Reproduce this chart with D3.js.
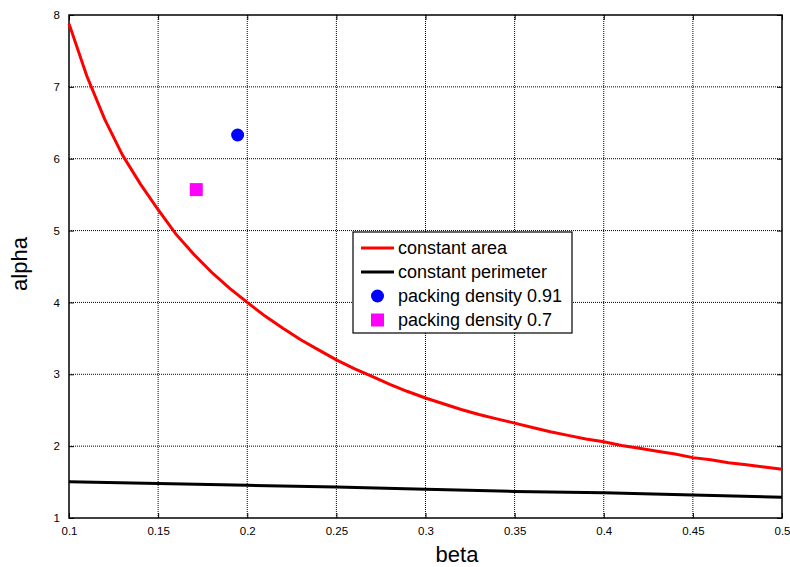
<!DOCTYPE html>
<html>
<head>
<meta charset="utf-8">
<script src="https://cdn.jsdelivr.net/npm/d3@7"></script>
<style>
  body { margin: 0; background: #fff; }
  text { font-family: "Liberation Sans", Arial, sans-serif; }
</style>
</head>
<body>
<svg id="chart" width="790" height="567"></svg>
<script>
// values
var betaVals = [0.10, 0.11, 0.12, 0.13, 0.14, 0.15, 0.16, 0.17, 0.18, 0.19, 0.20,
                0.21, 0.22, 0.23, 0.24, 0.25, 0.26, 0.27, 0.28, 0.29, 0.30,
                0.31, 0.32, 0.33, 0.34, 0.35, 0.36, 0.37, 0.38, 0.39, 0.40,
                0.41, 0.42, 0.43, 0.44, 0.45, 0.46, 0.47, 0.48, 0.49, 0.50];
var areaAlpha = [7.88, 7.15, 6.55, 6.05, 5.65, 5.29, 4.95, 4.67, 4.42, 4.20, 4.00,
                 3.81, 3.64, 3.48, 3.34, 3.20, 3.08, 2.97, 2.86, 2.76, 2.67,
                 2.59, 2.51, 2.44, 2.38, 2.32, 2.26, 2.20, 2.15, 2.10, 2.06,
                 2.01, 1.97, 1.93, 1.89, 1.84, 1.81, 1.77, 1.74, 1.71, 1.68];
var perimBeta = [0.10, 0.15, 0.20, 0.25, 0.30, 0.35, 0.40, 0.45, 0.50];
var perimAlpha = [1.505, 1.48, 1.455, 1.43, 1.40, 1.37, 1.35, 1.32, 1.29];
var pt091 = [0.1946, 6.33];
var pt07 = [0.1714, 5.57];
var xTicks = [0.1, 0.15, 0.2, 0.25, 0.3, 0.35, 0.4, 0.45, 0.5];
var yTicks = [1, 2, 3, 4, 5, 6, 7, 8];
var legendLabels = ["constant area", "constant perimeter", "packing density 0.91", "packing density 0.7"];

var margin = {left: 69, top: 15, right: 8, bottom: 49};
var W = 790, H = 567;
var w = W - margin.left - margin.right, h = H - margin.top - margin.bottom;

var svg = d3.select("#chart");
var g = svg.append("g").attr("transform", "translate(" + margin.left + "," + margin.top + ")");

var x = d3.scaleLinear().domain([0.1, 0.5]).range([0, w]);
var y = d3.scaleLinear().domain([1, 8]).range([h, 0]);

// grid
g.selectAll(".vgrid").data(xTicks.slice(1, -1)).enter().append("line")
  .attr("x1", d => x(d)).attr("x2", d => x(d)).attr("y1", 0).attr("y2", h)
  .attr("stroke", "#000").attr("stroke-width", 1).attr("stroke-dasharray", "1,1");
g.selectAll(".hgrid").data(yTicks.slice(1, -1)).enter().append("line")
  .attr("y1", d => y(d)).attr("y2", d => y(d)).attr("x1", 0).attr("x2", w)
  .attr("stroke", "#000").attr("stroke-width", 1).attr("stroke-dasharray", "1,1");

// axes (ticks inward, mirrored on top/right)
var fmt = d => String(d);
g.append("g").attr("transform", "translate(0," + h + ")")
  .call(d3.axisBottom(x).tickValues(xTicks).tickFormat(fmt).tickSizeInner(-5).tickSizeOuter(0).tickPadding(9));
g.append("g")
  .call(d3.axisLeft(y).tickValues(yTicks).tickFormat(fmt).tickSizeInner(-5).tickSizeOuter(0).tickPadding(9));
g.append("g").call(d3.axisTop(x).tickValues(xTicks).tickFormat("").tickSizeInner(-5).tickSizeOuter(0));
g.append("g").attr("transform", "translate(" + w + ",0)")
  .call(d3.axisRight(y).tickValues(yTicks).tickFormat("").tickSizeInner(-5).tickSizeOuter(0));
g.selectAll(".domain").remove();
g.selectAll(".tick text").attr("font-size", 11.5).attr("fill", "#000")
  .style("font-family", "'Liberation Sans', Arial, sans-serif");
g.selectAll(".tick line").attr("stroke", "#000");

// frame
g.append("rect").attr("width", w).attr("height", h)
  .attr("fill", "none").attr("stroke", "#000").attr("stroke-width", 1.5);

// curves
var line = d3.line().x(d => x(d[0])).y(d => y(d[1]));
g.append("path").datum(d3.zip(perimBeta, perimAlpha)).attr("d", line)
  .attr("fill", "none").attr("stroke", "#000").attr("stroke-width", 3);
g.append("path").datum(d3.zip(betaVals, areaAlpha)).attr("d", line)
  .attr("fill", "none").attr("stroke", "#ff0000").attr("stroke-width", 3);

// points
g.append("circle").attr("cx", x(pt091[0])).attr("cy", y(pt091[1])).attr("r", 6.5).attr("fill", "#0000ff");
g.append("rect").attr("x", x(pt07[0]) - 6.5).attr("y", y(pt07[1]) - 6.5)
  .attr("width", 13).attr("height", 13).attr("fill", "#ff00ff");

// axis labels
svg.append("text").attr("x", 457).attr("y", 562).attr("text-anchor", "middle")
  .attr("font-size", 22).text("beta");
svg.append("text").attr("transform", "translate(27,264) rotate(-90)").attr("text-anchor", "middle")
  .attr("font-size", 22).text("alpha");

// legend
var leg = svg.append("g").attr("transform", "translate(353,232)");
leg.append("rect").attr("width", 219).attr("height", 101)
  .attr("fill", "#fff").attr("stroke", "#000").attr("stroke-width", 1.2);
var rowY = [16, 40, 64, 88];
leg.selectAll(".lt").data(legendLabels).enter().append("text")
  .attr("x", 45).attr("y", (d, i) => rowY[i] + 6).attr("font-size", 18).text(d => d);
leg.append("line").attr("x1", 8).attr("x2", 41).attr("y1", rowY[0]).attr("y2", rowY[0])
  .attr("stroke", "#ff0000").attr("stroke-width", 3);
leg.append("line").attr("x1", 8).attr("x2", 41).attr("y1", rowY[1]).attr("y2", rowY[1])
  .attr("stroke", "#000").attr("stroke-width", 3);
leg.append("circle").attr("cx", 24.5).attr("cy", rowY[2]).attr("r", 6.5).attr("fill", "#0000ff");
leg.append("rect").attr("x", 18).attr("y", rowY[3] - 6.5).attr("width", 13).attr("height", 13).attr("fill", "#ff00ff");
</script>
</body>
</html>
